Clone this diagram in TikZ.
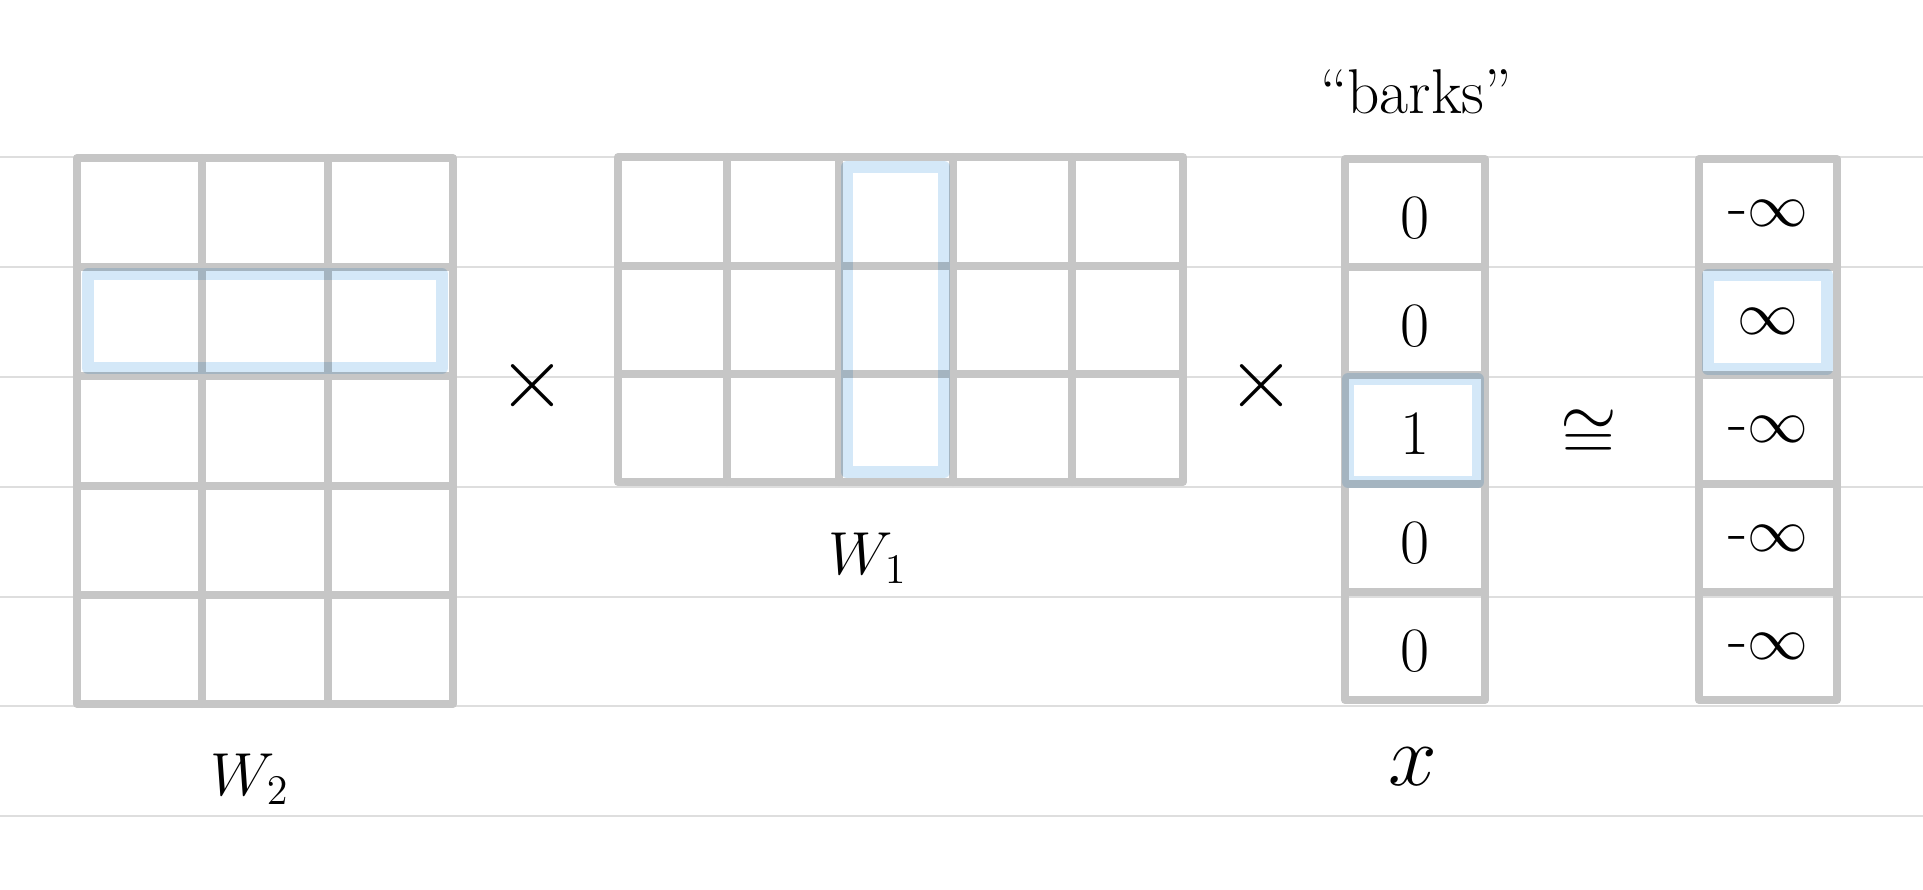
\documentclass[tikz,border=0pt]{standalone}
\usepackage{tikz}
\definecolor{rulegray}{HTML}{DEDEDE}
\definecolor{gridgray}{HTML}{C6C6C6}
\definecolor{hiblue}{HTML}{D4E8F8}
\tikzset{
  ruleline/.style={draw=rulegray, line width=0.6pt},
  mat/.style={draw=gridgray, line width=2.3pt, line cap=round, line join=round},
  hilite/.style={draw=hiblue, line width=3.4pt, line join=round, blend mode=multiply},
  entry/.style={inner sep=0pt, font=\fontsize{18}{20}\selectfont},
  mname/.style={inner sep=0pt, font=\fontsize{18}{20}\selectfont},
  op/.style={inner sep=0pt, font=\fontsize{28}{30}\selectfont},
}

\begin{document}
\begin{tikzpicture}
    \useasboundingbox (0,0) rectangle (19.23,8.90);
    \draw[ruleline] (0,7.33) -- (19.23,7.33) (0,6.23) -- (19.23,6.23) (0,5.13) -- (19.23,5.13)
      (0,4.03) -- (19.23,4.03) (0,2.93) -- (19.23,2.93) (0,1.84) -- (19.23,1.84) (0,0.74) -- (19.23,0.74);
    % W2
    \draw[mat] (0.77,1.86) rectangle (4.53,7.32);
    \draw[mat] (2.02,1.86) -- (2.02,7.32) (3.28,1.86) -- (3.28,7.32);
    \draw[mat] (0.77,6.23) -- (4.53,6.23) (0.77,5.14) -- (4.53,5.14) (0.77,4.04) -- (4.53,4.04) (0.77,2.95) -- (4.53,2.95);
    \draw[hilite] (0.88,5.22) rectangle (4.42,6.16);
    \node[mname] (wtwo) at (2.50,1.11) {$W_2$};
    \node[op] (times1) at (5.32,5.04) {$\times$};
    % W1
    \draw[mat] (6.18,4.08) rectangle (11.83,7.33);
    \draw[mat] (7.27,4.08) -- (7.27,7.33) (8.39,4.08) -- (8.39,7.33) (9.53,4.08) -- (9.53,7.33) (10.72,4.08) -- (10.72,7.33);
    \draw[mat] (6.18,6.24) -- (11.83,6.24) (6.18,5.16) -- (11.83,5.16);
    \draw[hilite] (8.47,4.18) rectangle (9.44,7.23);
    \node[mname] (wone) at (8.68,3.32) {$W_1$};
    \node[op] (times2) at (12.61,5.04) {$\times$};
    % x
    \draw[mat] (13.45,1.90) rectangle (14.85,7.31);
    \draw[mat] (13.45,6.23) -- (14.85,6.23) (13.45,5.15) -- (14.85,5.15) (13.45,4.06) -- (14.85,4.06) (13.45,2.98) -- (14.85,2.98);
    \draw[hilite] (13.48,4.08) rectangle (14.78,5.11);
    \node[entry] (xa) at (14.15,6.72) {0};
    \node[entry] (xb) at (14.15,5.64) {0};
    \node[entry] (xc) at (14.15,4.56) {1};
    \node[entry] (xd) at (14.15,3.47) {0};
    \node[entry] (xe) at (14.15,2.39) {0};
    \node[mname] (barks) at (14.16,7.98) {``barks''};
    \node[op, font=\fontsize{26}{28}\selectfont] (xname) at (14.13,1.23) {$x$};
    \node[op, font=\fontsize{22}{24}\selectfont] (approx) at (15.89,4.55) {$\cong$};
    % output
    \draw[mat] (16.99,1.90) rectangle (18.37,7.31);
    \draw[mat] (16.99,6.23) -- (18.37,6.23) (16.99,5.15) -- (18.37,5.15) (16.99,4.06) -- (18.37,4.06) (16.99,2.98) -- (18.37,2.98);
    \draw[hilite] (17.08,5.21) rectangle (18.27,6.15);
    \node[entry] (oa) at (17.68,6.77) {-$\infty$};
    \node[entry] (ob) at (17.68,5.69) {$\infty$};
    \node[entry] (oc) at (17.68,4.61) {-$\infty$};
    \node[entry] (od) at (17.68,3.52) {-$\infty$};
    \node[entry] (oe) at (17.68,2.44) {-$\infty$};
  \end{tikzpicture}
\end{document}
